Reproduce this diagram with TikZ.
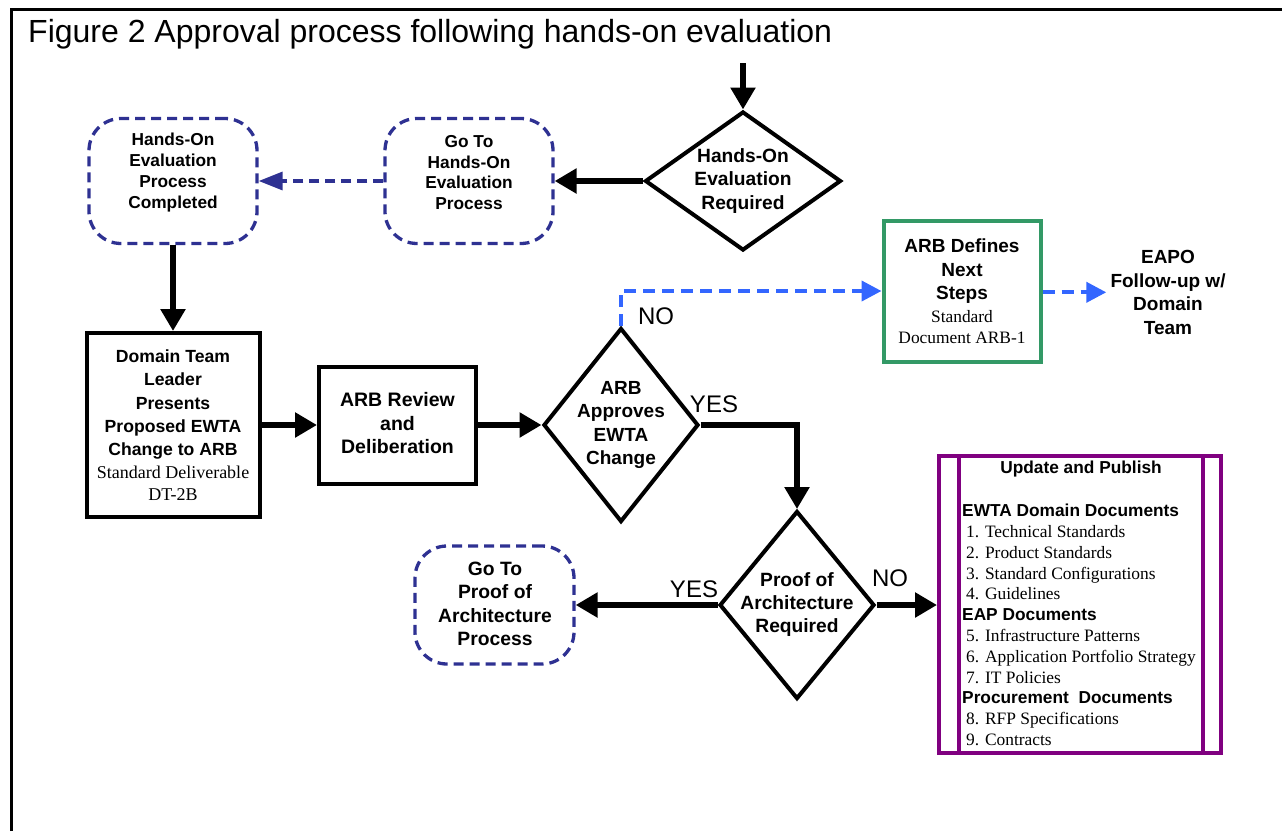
\documentclass[tikz,border=0pt]{standalone}
\usepackage{fontspec}
\setmainfont{Liberation Serif}
\setsansfont{Liberation Sans}
\usetikzlibrary{arrows.meta,shapes.geometric}

\definecolor{navy}{HTML}{2E3192}
\definecolor{flowblue}{HTML}{3366FF}
\definecolor{boxgreen}{HTML}{339966}
\definecolor{pubpurple}{HTML}{800080}

% bold sans text at a given size / line skip
\newcommand{\bsans}[2]{\fontsize{#1}{#2}\selectfont\sffamily\bfseries}
% bold sans heading inside the publish list
\newcommand{\pubhead}[1]{{\sffamily\bfseries\fontsize{17.3}{20.8}\selectfont #1}}

\tikzset{
  procbox/.style={draw, line width=4pt, rectangle, inner sep=0pt},
  gotobox/.style={draw=navy, line width=3.3pt, dash pattern=on 10pt off 6pt,
                  rounded corners=32pt, rectangle, inner sep=0pt},
  decision/.style={draw, line width=4pt, diamond, aspect=1, inner sep=0pt},
  boxtext/.style={inner sep=0pt, align=center},
  yesno/.style={inner sep=0pt, font=\fontsize{24}{28}\selectfont\sffamily},
  flow/.style={line width=6.5pt, -{Triangle[length=22pt,width=24pt]}},
  navyflow/.style={navy, line width=3.3pt, dash pattern=on 10pt off 6pt,
                   -{Triangle[length=24pt,width=18pt]}},
  blueflow/.style={flowblue, line width=4pt, dash pattern=on 12pt off 7pt,
                   -{Triangle[length=20pt,width=20pt]}},
}

\begin{document}
\begin{tikzpicture}[x=1pt, y=-1pt]
\useasboundingbox (0,0) rectangle (1282,831);

% outer frame (open to the right and bottom)
\draw[line width=2.5pt] (11.3,831) -- (11.3,9.3) -- (1282,9.3);

\node[anchor=base west, inner sep=0pt, font=\fontsize{32}{38}\selectfont\sffamily]
  (title) at (28,42.7) {Figure 2 Approval process following hands-on evaluation};

% ---- shapes ----
\node[gotobox, minimum width=168pt, minimum height=125pt] (hoc) at (173,181) {};
\node[gotobox, minimum width=168pt, minimum height=125pt] (goto1) at (469,181) {};
\node[decision, minimum width=196pt, minimum height=139pt] (hoer) at (743,181) {};
\node[procbox, minimum width=173pt, minimum height=184pt] (dom) at (173,425) {};
\node[procbox, minimum width=157pt, minimum height=117pt] (rev) at (397.5,425) {};
\node[decision, minimum width=155pt, minimum height=194pt] (arb) at (621,425) {};
\node[procbox, draw=boxgreen, minimum width=157pt, minimum height=141pt] (defn) at (962,291) {};
\node[decision, minimum width=155pt, minimum height=188pt] (poa) at (797,605) {};
\node[gotobox, minimum width=159pt, minimum height=118pt] (goto2) at (494.5,605) {};
\node[procbox, draw=pubpurple, minimum width=282pt, minimum height=297pt] (pub) at (1080,604.5) {};
\draw[pubpurple, line width=4pt]
  ([xshift=22pt]pub.north west) -- ([xshift=22pt]pub.south west)
  ([xshift=-20pt]pub.north east) -- ([xshift=-20pt]pub.south east);

% ---- texts ----
\node[boxtext, font=\bsans{17.3}{20.7}] (hoc-t) at (173,172.5)
  {Hands-On\\Evaluation\\Process\\Completed};
\node[boxtext, font=\bsans{17.3}{20.7}] (goto1-t) at (469,172.5)
  {Go To\\Hands-On\\Evaluation\\Process};
\node[boxtext, font=\bsans{19.2}{23.5}] (hoer-t) at (743,181)
  {Hands-On\\Evaluation\\Required};
\node[boxtext, font=\bsans{17.6}{23.2}] (dom-t) at (173,425.5)
  {Domain Team\\Leader\\Presents\\Proposed EWTA\\Change to ARB\\
   {\rmfamily\mdseries\fontsize{18}{23.2}\selectfont Standard Deliverable}\\[-1pt]
   {\rmfamily\mdseries\fontsize{18}{23.2}\selectfont DT-2B}};
\node[boxtext, font=\bsans{19.5}{23.5}] (rev-t) at (397.5,423.5)
  {ARB Review\\and\\Deliberation};
\node[boxtext, font=\bsans{19}{23.3}] (arb-t) at (621,425)
  {ARB\\Approves\\EWTA\\Change};
\node[boxtext, font=\bsans{19}{23.5}] (defn-t) at (962,291)
  {ARB Defines\\Next\\Steps\\[-0.5pt]
   {\rmfamily\mdseries\fontsize{17.4}{20.5}\selectfont Standard}\\[-3pt]
   {\rmfamily\mdseries\fontsize{17.4}{20.5}\selectfont Document ARB-1}};
\node[boxtext, inner sep=4pt, font=\bsans{19}{23.5}] (eapo) at (1168,292.3)
  {EAPO\\Follow-up w/\\Domain\\Team};
\node[boxtext, font=\bsans{19.2}{23}] (poa-t) at (797,604.5)
  {Proof of\\Architecture\\Required};
\node[boxtext, font=\bsans{19.3}{23.5}] (goto2-t) at (495,604)
  {Go To\\Proof of\\Architecture\\Process};

\node[inner sep=0pt, font=\bsans{17.3}{20}] (pub-h) at (1081,469) {Update and Publish};
\node[inner sep=0pt, anchor=north west, align=left,
      font=\fontsize{17.4}{20.8}\selectfont\rmfamily] (pub-l) at (962,504)
  {\pubhead{EWTA Domain Documents}\\
   \hspace*{4pt}1. Technical Standards\\
   \hspace*{4pt}2. Product Standards\\
   \hspace*{4pt}3. Standard Configurations\\
   \hspace*{4pt}4. Guidelines\\
   \pubhead{EAP Documents}\\
   \hspace*{4pt}5. Infrastructure Patterns\\
   \hspace*{4pt}6. Application Portfolio Strategy\\
   \hspace*{4pt}7. IT Policies\\
   \pubhead{Procurement\ \ Documents}\\
   \hspace*{4pt}8. RFP Specifications\\
   \hspace*{4pt}9. Contracts};

\node[yesno] (no1) at (656,316.5) {NO};
\node[yesno] (yes1) at (714,404) {YES};
\node[yesno] (yes2) at (694,589) {YES};
\node[yesno] (no2) at (890,578.5) {NO};

% ---- connectors ----
\coordinate (start) at (743,63);
\draw[flow] (start) -- (hoer.north);
\draw[flow] (hoer.west) -- (goto1.east);
\draw[navyflow] (goto1.west) -- (hoc.east);
\draw[flow] (hoc.south) -- (hoc.south |- dom.north);
\draw[flow] (dom.east) -- (rev.west);
\draw[flow] (rev.east) -- (arb.west);
\draw[blueflow] (arb.north) |- (defn.west);
\draw[blueflow] (defn.east |- eapo.west) -- (eapo.west);
\draw[flow] (arb.east) -| (poa.north);
\draw[flow] (poa.west) -- (goto2.east);
\draw[flow] (poa.east) -- (poa.east -| pub.west);
\end{tikzpicture}
\end{document}
